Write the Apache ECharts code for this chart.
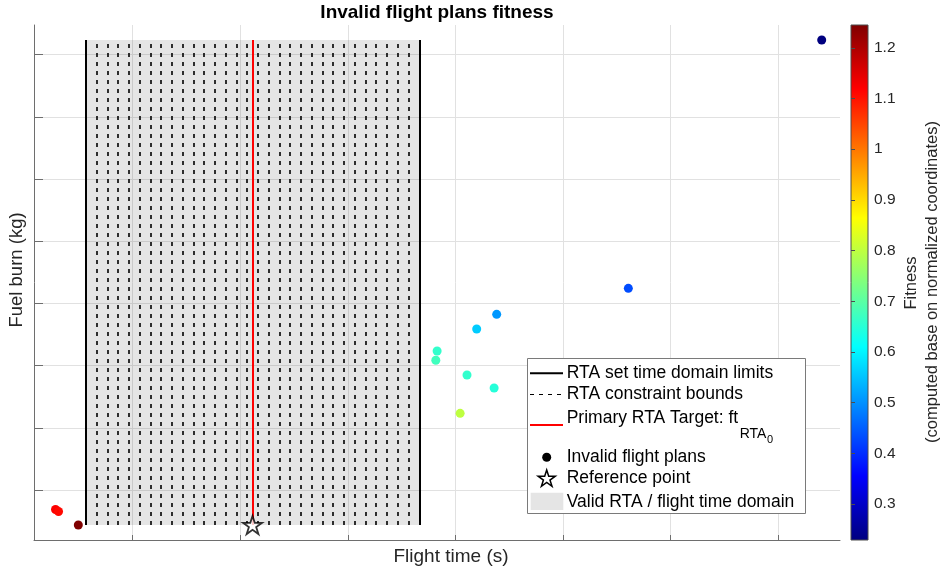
<!DOCTYPE html>
<html>
<head>
<meta charset="utf-8">
<title>Invalid flight plans fitness</title>
<script src="https://cdn.jsdelivr.net/npm/echarts@6/dist/echarts.min.js"></script>
<style>
  html, body { margin: 0; padding: 0; background: #fff; }
  #chart { width: 942px; height: 573px; }
</style>
</head>
<body>
<div id="chart"></div>
<script>
// Axis scales: flight time (s) and fuel burn (kg); tick labels are hidden
const xTicks = [5000, 5500, 6000, 6500, 7000, 7500, 8000];
const yTicks = [1000, 1100, 1200, 1300, 1400, 1500, 1600, 1700];
const xRange = [4541, 8288];
const yRange = [919.6, 1747.7];

// RTA configuration
const rtaTarget = 5557;
const rtaLimits = [4782, 6332];
const constraintBounds = [
  4832, 4882, 4932, 4982, 5032, 5082, 5132, 5182, 5232, 5282,
  5332, 5382, 5432, 5482, 5532, 5582, 5632, 5682, 5732, 5782,
  5832, 5882, 5932, 5982, 6032, 6082, 6132, 6182, 6232, 6282
];

// Invalid flight plans
const planTime    = [4747, 4641, 4655, 8203, 7304, 6692, 6599, 6415, 6409, 6554, 6680, 6522];
const planFuel    = [943.7, 968.6, 965.4, 1723.6, 1324.3, 1282.5, 1258.9, 1223.5, 1208.6, 1184.9, 1164.0, 1123.3];
const planFitness = [1.245, 1.12, 1.11, 0.229, 0.432, 0.508, 0.559, 0.661, 0.674, 0.660, 0.648, 0.800];

// Reference point (flight time, fuel burn)
const refTime = 5557;
const refFuel = 943.7;

// Colour bar
const fitnessRange = [0.229, 1.245];
const fitnessTicks = [0.3, 0.4, 0.5, 0.6, 0.7, 0.8, 0.9, 1, 1.1, 1.2];
const jet = ['#00007f', '#0000ff', '#007fff', '#00ffff', '#7fff7f', '#ffff00', '#ff7f00', '#ff0000', '#7f0000'];

const FONT = "'Liberation Sans', Arial, Helvetica, sans-serif";
const TEXT = '#262626';

const fuelMin = Math.min(refFuel, ...planFuel);
const fuelMax = Math.max(refFuel, ...planFuel);

const plans = planTime.map((t, i) => [t, planFuel[i], planFitness[i]]);

// five-pointed star outline
function starPoints(r, cx, cy) {
  const pts = [];
  for (let i = 0; i < 10; i++) {
    const rr = i % 2 ? r * 0.382 : r;
    const a = -Math.PI / 2 + i * Math.PI / 5;
    pts.push([cx + rr * Math.cos(a), cy + rr * Math.sin(a)]);
  }
  return pts;
}
const starSymbol = 'path://M' + starPoints(50, 50, 50).map(p => p[0].toFixed(2) + ',' + p[1].toFixed(2)).join('L') + 'Z';

const vline = x => [{ coord: [x, fuelMin] }, { coord: [x, fuelMax] }];

function measure(text, font) {
  const ctx = document.createElement('canvas').getContext('2d');
  ctx.font = font;
  return ctx.measureText(text).width;
}

const LEG = 17.5;
const legendMain = 'Primary RTA Target: ft';
const subX = 39.7 + measure(legendMain, LEG + 'px ' + FONT) + 1.5;
const subW = measure('RTA', '14px ' + FONT);

// legend entries drawn above the plot area
const legendItems = [
  { type: 'rect', shape: { x: 0.5, y: 0.5, width: 278, height: 155 }, style: { fill: '#fff', stroke: '#7a7a7a', lineWidth: 1 } },
  { type: 'line', shape: { x1: 3, y1: 15.3, x2: 36, y2: 15.3 }, style: { stroke: '#000', lineWidth: 2 } },
  { type: 'text', x: 39.7, y: 15.3, style: { text: 'RTA set time domain limits', verticalAlign: 'middle', font: LEG + 'px ' + FONT, fill: '#000' } },
  { type: 'line', shape: { x1: 3, y1: 36.5, x2: 36, y2: 36.5 }, style: { stroke: '#000', lineWidth: 1, lineDash: [4, 5] } },
  { type: 'text', x: 39.7, y: 36, style: { text: 'RTA constraint bounds', verticalAlign: 'middle', font: LEG + 'px ' + FONT, fill: '#000' } },
  { type: 'line', shape: { x1: 3, y1: 67, x2: 36, y2: 67 }, style: { stroke: '#ff0000', lineWidth: 2 } },
  { type: 'text', x: 39.7, y: 60.3, style: { text: legendMain, verticalAlign: 'middle', font: LEG + 'px ' + FONT, fill: '#000' } },
  { type: 'text', x: subX, y: 76.3, style: { text: 'RTA', verticalAlign: 'middle', font: '14px ' + FONT, fill: '#000' } },
  { type: 'text', x: subX + subW + 0.5, y: 81.5, style: { text: '0', verticalAlign: 'middle', font: '11px ' + FONT, fill: '#000' } },
  { type: 'circle', shape: { cx: 19.7, cy: 99.3, r: 4.5 }, style: { fill: '#000' } },
  { type: 'text', x: 39.7, y: 99.3, style: { text: 'Invalid flight plans', verticalAlign: 'middle', font: LEG + 'px ' + FONT, fill: '#000' } },
  { type: 'polygon', shape: { points: starPoints(9, 19.7, 121) }, style: { fill: '#fff', stroke: '#000', lineWidth: 1.5 } },
  { type: 'text', x: 39.7, y: 120.3, style: { text: 'Reference point', verticalAlign: 'middle', font: LEG + 'px ' + FONT, fill: '#000' } },
  { type: 'rect', shape: { x: 3.7, y: 134.7, width: 32.6, height: 17.3 }, style: { fill: '#e5e5e5' } },
  { type: 'text', x: 39.7, y: 143.7, style: { text: 'Valid RTA / flight time domain', verticalAlign: 'middle', font: LEG + 'px ' + FONT, fill: '#000' } }
].map(el => Object.assign({ z: 100 }, el));

const chart = echarts.init(document.getElementById('chart'), null, { renderer: 'canvas' });

chart.setOption({
  animation: false,
  backgroundColor: '#ffffff',
  grid: [
    { left: 34, top: 25, width: 806, height: 515, containLabel: false },
    {
      left: 851, top: 25, width: 17, height: 515, show: true,
      borderColor: '#4d4d4d', borderWidth: 1,
      backgroundColor: {
        type: 'linear', x: 0, y: 1, x2: 0, y2: 0,
        colorStops: jet.map((c, i) => ({ offset: i / (jet.length - 1), color: c }))
      }
    }
  ],
  xAxis: [
    {
      type: 'value', gridIndex: 0, min: xRange[0], max: xRange[1],
      axisLine: { show: true, onZero: false, lineStyle: { color: '#6e6e6e', width: 1 } },
      axisTick: { show: true, inside: true, length: 5, customValues: xTicks, lineStyle: { color: '#6e6e6e' } },
      axisLabel: { show: false, customValues: xTicks },
      splitLine: { show: true, lineStyle: { color: '#e1e1e1', width: 1 } }
    },
    { type: 'value', gridIndex: 1, min: 0, max: 1, show: false }
  ],
  yAxis: [
    {
      type: 'value', gridIndex: 0, min: yRange[0], max: yRange[1],
      axisLine: { show: true, onZero: false, lineStyle: { color: '#6e6e6e', width: 1 } },
      axisTick: { show: true, inside: true, length: 9, customValues: yTicks, lineStyle: { color: '#6e6e6e' } },
      axisLabel: { show: false, customValues: yTicks },
      splitLine: { show: true, lineStyle: { color: '#e1e1e1', width: 1 } }
    },
    {
      type: 'value', gridIndex: 1, min: fitnessRange[0], max: fitnessRange[1], position: 'right',
      axisLine: { show: false },
      axisTick: { show: true, inside: false, length: 4, customValues: fitnessTicks, lineStyle: { color: '#4d4d4d' } },
      axisLabel: {
        show: true, customValues: fitnessTicks, margin: 6,
        fontFamily: FONT, fontSize: 15.5, color: TEXT,
        formatter: v => String(Math.round(v * 10) / 10)
      },
      splitLine: { show: false }
    }
  ],
  visualMap: {
    type: 'continuous', show: false, seriesIndex: 4, dimension: 2,
    min: fitnessRange[0], max: fitnessRange[1],
    inRange: { color: jet }
  },
  series: [
    {
      name: 'Valid RTA / flight time domain', type: 'line', data: [], silent: true,
      markArea: {
        silent: true,
        itemStyle: { color: 'rgba(0,0,0,0.1)' },
        data: [[{ coord: [rtaLimits[0], fuelMin] }, { coord: [rtaLimits[1], fuelMax] }]]
      }
    },
    {
      name: 'RTA constraint bounds', type: 'line', data: [], silent: true,
      markLine: {
        silent: true, symbol: 'none', label: { show: false },
        lineStyle: { color: '#000000', width: 1.6, type: [4, 5] },
        data: constraintBounds.map(vline)
      }
    },
    {
      name: 'RTA set time domain limits', type: 'line', data: [], silent: true,
      markLine: {
        silent: true, symbol: 'none', label: { show: false },
        lineStyle: { color: '#000000', width: 2, type: 'solid' },
        data: rtaLimits.map(vline)
      }
    },
    {
      name: 'Primary RTA Target', type: 'line', data: [], silent: true,
      markLine: {
        silent: true, symbol: 'none', label: { show: false },
        lineStyle: { color: '#ff0000', width: 2, type: 'solid' },
        data: [vline(rtaTarget)]
      }
    },
    {
      name: 'Invalid flight plans', type: 'scatter', xAxisIndex: 0, yAxisIndex: 0,
      symbol: 'circle', symbolSize: 9, data: plans,
      itemStyle: { opacity: 1, borderWidth: 0 }, z: 5
    },
    {
      name: 'Reference point', type: 'scatter', xAxisIndex: 0, yAxisIndex: 0,
      symbol: starSymbol, symbolKeepAspect: true, symbolSize: 19,
      data: [[refTime, refFuel]],
      itemStyle: { color: '#ffffff', borderColor: '#000000', borderWidth: 1.8 }, z: 6
    }
  ],
  graphic: [
    {
      type: 'text', x: 437, y: 13, z: 100,
      style: { text: 'Invalid flight plans fitness', align: 'center', verticalAlign: 'middle',
        font: 'bold 19px ' + FONT, fill: '#000' }
    },
    {
      type: 'text', x: 451, y: 557, z: 100,
      style: { text: 'Flight time (s)', align: 'center', verticalAlign: 'middle', font: '19px ' + FONT, fill: TEXT }
    },
    {
      type: 'text', x: 17, y: 270, rotation: Math.PI / 2, z: 100,
      style: { text: 'Fuel burn (kg)', align: 'center', verticalAlign: 'middle', font: '18.5px ' + FONT, fill: TEXT }
    },
    {
      type: 'text', x: 911, y: 283, rotation: Math.PI / 2, z: 100,
      style: { text: 'Fitness', align: 'center', verticalAlign: 'middle', font: '16.5px ' + FONT, fill: TEXT }
    },
    {
      type: 'text', x: 932, y: 282, rotation: Math.PI / 2, z: 100,
      style: { text: '(computed base on normalized coordinates)', align: 'center', verticalAlign: 'middle', font: '16.5px ' + FONT, fill: TEXT }
    },
    { type: 'group', x: 527, y: 358, z: 100, children: legendItems }
  ]
});
</script>
</body>
</html>
